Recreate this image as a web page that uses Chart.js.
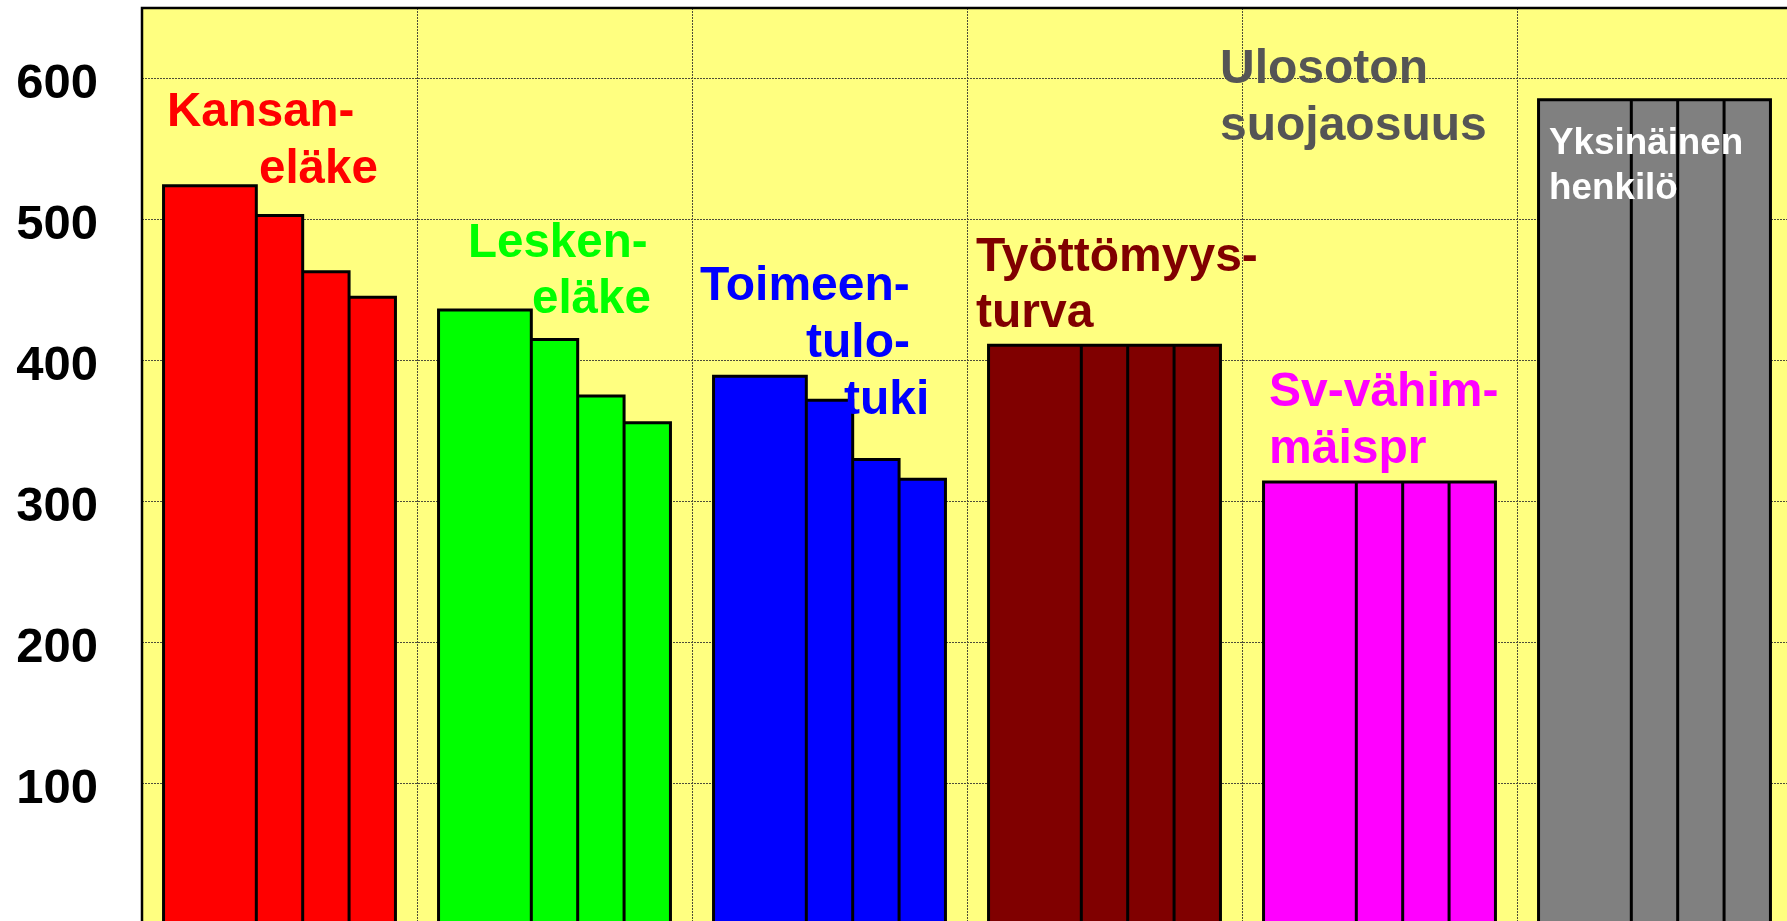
<!DOCTYPE html>
<html><head><meta charset="utf-8">
<script src="https://cdn.jsdelivr.net/npm/chart.js@4"></script>
<style>
html,body{margin:0;padding:0;overflow:hidden;background:#ffffff;width:1787px;height:921px}
#wrap{position:absolute;left:0;top:0;width:1800px;height:935px}
canvas{display:block}
</style></head>
<body>
<div id="wrap"><canvas id="c"></canvas></div>
<script>
// ---- data ----
const categories = ['Kansaneläke', 'Leskeneläke', 'Toimeentulotuki', 'Työttömyysturva', 'Sv-vähimmäispr', 'Ulosoton suojaosuus'];
const series1 = [524, 436, 389, 411, 314, 585];
const series2 = [524, 436, 389, 411, 314, 585];
const series3 = [503, 415, 372, 411, 314, 585];
const series4 = [463, 375, 330, 411, 314, 585];
const series5 = [445, 356, 316, 411, 314, 585];
const yTickValues = [100, 200, 300, 400, 500, 600];
const groupColors = ['#FF0000', '#00FF00', '#0000FF', '#800000', '#FF00FF', '#808080'];

// ---- annotation texts (category index, offset within category, baseline value) ----
const annotations = [
  {cat:0, dx:25,  v:566.4, text:'Kansan-',     color:'#FF0000', size:47.5},
  {cat:0, dx:117, v:525.8, text:'eläke',       color:'#FF0000', size:47.5},
  {cat:1, dx:51,  v:473.8, text:'Lesken-',     color:'#00FF00', size:47.5},
  {cat:1, dx:115, v:433.6, text:'eläke',       color:'#00FF00', size:47.5},
  {cat:2, dx:8,   v:443.0, text:'Toimeen-',    color:'#0000FF', size:48},
  {cat:2, dx:114, v:402.4, text:'tulo-',       color:'#0000FF', size:48},
  {cat:2, dx:152, v:362.2, text:'tuki',        color:'#0000FF', size:48},
  {cat:3, dx:9,   v:463.8, text:'Työttömyys-', color:'#800000', size:48},
  {cat:3, dx:9,   v:424.1, text:'turva',       color:'#800000', size:48},
  {cat:4, dx:-22, v:596.7, text:'Ulosoton',    color:'#555555', size:48},
  {cat:4, dx:-22, v:556.5, text:'suojaosuus',  color:'#555555', size:48},
  {cat:4, dx:27,  v:367.9, text:'Sv-vähim-',   color:'#FF00FF', size:48},
  {cat:4, dx:27,  v:327.4, text:'mäispr',      color:'#FF00FF', size:48},
  {cat:5, dx:32,  v:546.6, text:'Yksinäinen',  color:'#FFFFFF', size:36.8},
  {cat:5, dx:32,  v:514.5, text:'henkilö',     color:'#FFFFFF', size:36.8}
];

const FONT = '"Liberation Sans", Arial, Helvetica, sans-serif';

const chartPlugin = {
  id: 'decor',
  beforeDraw(chart) {
    const {ctx, chartArea: a} = chart;
    ctx.save();
    ctx.fillStyle = '#FFFF80';
    ctx.fillRect(a.left, a.top, a.right - a.left, a.bottom - a.top);
    ctx.restore();
  },
  afterDatasetsDraw(chart) {
    const {ctx, chartArea: a, scales: {x, y}} = chart;
    const catW = (a.right - a.left) / categories.length;
    const metas = chart.data.datasets.map((d, i) => chart.getDatasetMeta(i));
    ctx.save();
    // bar outlines from the library's bar elements
    ctx.strokeStyle = '#000000';
    ctx.lineWidth = 3;
    ctx.lineCap = 'square';
    ctx.lineJoin = 'miter';
    for (let c = 0; c < categories.length; c++) {
      const els = metas.map(m => m.data[c]);
      const base = els[0].base;
      ctx.beginPath();
      const l0 = els[0].x - els[0].width / 2;
      ctx.moveTo(l0, base);
      ctx.lineTo(l0, els[0].y);
      els.forEach((el, k) => {
        const l = el.x - el.width / 2, r = el.x + el.width / 2;
        ctx.moveTo(l, el.y);
        ctx.lineTo(r, el.y);
        if (k >= 1) {
          ctx.moveTo(r, el.y);
          ctx.lineTo(r, base);
        }
      });
      ctx.stroke();
    }
    // texts
    ctx.textAlign = 'left';
    ctx.textBaseline = 'alphabetic';
    annotations.forEach(t => {
      ctx.font = 'bold ' + t.size + 'px ' + FONT;
      ctx.fillStyle = t.color;
      ctx.fillText(t.text, x.getPixelForValue(t.cat) - catW / 2 + t.dx, y.getPixelForValue(t.v));
    });
    // plot frame
    ctx.strokeStyle = '#000000';
    ctx.lineWidth = 2.5;
    ctx.lineCap = 'butt';
    ctx.beginPath();
    ctx.moveTo(a.left, a.bottom);
    ctx.lineTo(a.left, a.top);
    ctx.lineTo(a.right, a.top);
    ctx.lineTo(a.right, a.bottom);
    ctx.stroke();
    ctx.restore();
  }
};

function ds(values) {
  return {
    data: values,
    backgroundColor: groupColors,
    borderWidth: 0,
    categoryPercentage: 0.8433,
    barPercentage: 1.0,
    inflateAmount: 0.6
  };
}

new Chart(document.getElementById('c'), {
  type: 'bar',
  data: {
    labels: categories,
    datasets: [ds(series1), ds(series2), ds(series3), ds(series4), ds(series5)]
  },
  options: {
    responsive: true,
    maintainAspectRatio: false,
    animation: false,
    devicePixelRatio: 1,
    layout: {padding: {top: 8, right: 8, bottom: 10, left: 0}},
    plugins: {legend: {display: false}, tooltip: {enabled: false}, title: {display: false}},
    scales: {
      x: {
        ticks: {display: false},
        grid: {display: true, offset: true, drawTicks: false, color: '#4d4d3a', lineWidth: 1},
        border: {display: false, dash: [2, 1]},
        afterFit(s) { s.height = 0; s.paddingLeft = 0; s.paddingRight = 0; }
      },
      y: {
        min: 0,
        max: 650,
        afterBuildTicks(s) { s.ticks = yTickValues.map(v => ({value: v})); },
        afterFit(s) { s.width = 142; s.paddingTop = 0; s.paddingBottom = 0; },
        ticks: {
          padding: 44,
          color: '#000000',
          font: {family: FONT, size: 49, weight: 'bold'},
          labelOffset: 6
        },
        grid: {drawTicks: false, color: '#4d4d3a', lineWidth: 1},
        border: {display: false, dash: [2, 1]}
      }
    }
  },
  plugins: [chartPlugin]
});
</script>
</body></html>
